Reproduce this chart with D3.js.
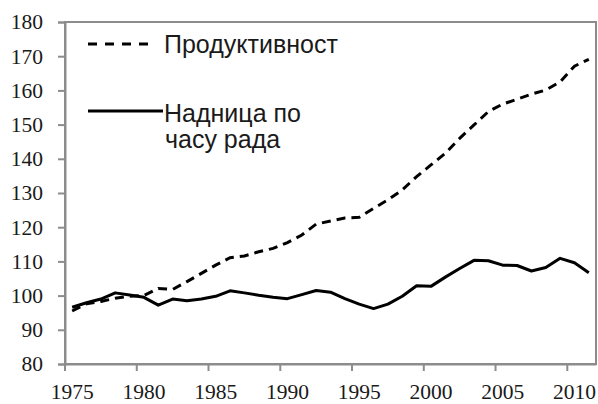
<!DOCTYPE html>
<html>
<head>
<meta charset="utf-8">
<script src="https://cdn.jsdelivr.net/npm/d3@7"></script>
<style>
  body { margin: 0; background: #fff; }
  .axis text { font-family: "Liberation Serif", "DejaVu Serif", serif; font-size: 21.5px; fill: #1a1a1a; }
  .legend text { font-family: "Liberation Sans", Arial, sans-serif; font-size: 25px; fill: #1a1a1a; }
</style>
</head>
<body>
<div id="chart-area"></div>
<script>
// data
let years = d3.range(1975, 2012);
let productivity = [95.5, 97.6, 98.3, 99.2, 99.8, 100.0, 102.1, 101.8, 104.1, 106.5,
  108.9, 111.1, 111.6, 112.8, 113.8, 115.5, 117.7, 120.9, 121.8, 122.7,
  122.9, 125.5, 128.0, 130.9, 134.8, 138.2, 141.6, 146.0, 149.9, 153.8,
  156.0, 157.4, 158.9, 160.1, 162.5, 167.1, 169.1];
let wage = [96.6, 97.9, 99.0, 100.8, 100.2, 99.5, 97.2, 99.0, 98.5, 99.0,
  99.8, 101.4, 100.8, 100.1, 99.5, 99.1, 100.3, 101.5, 101.0, 99.1,
  97.5, 96.2, 97.5, 99.8, 102.9, 102.7, 105.4, 107.9, 110.3, 110.2,
  108.9, 108.8, 107.2, 108.2, 110.9, 109.6, 106.7];
let yTicks = d3.range(80, 181, 10);
let xTickYears = [1975, 1980, 1985, 1990, 1995, 2000, 2005, 2010];

let W = 598, H = 404;
let margin = {top: 22, right: 2, bottom: 40, left: 65};
let width = W - margin.left - margin.right,
    height = H - margin.top - margin.bottom;

let svg = d3.select("#chart-area").append("svg")
    .attr("width", W)
    .attr("height", H)
  .append("g")
    .attr("transform", "translate(" + margin.left + "," + margin.top + ")");

// Scales
let x = d3.scaleBand()
    .domain(years)
    .range([0, width])
    .padding(0);

let y = d3.scaleLinear()
    .domain([80, 180])
    .range([height, 0]);

let axisColor = "#8c8c8c";

// frame
svg.append("rect")
    .attr("x", 0).attr("y", 0)
    .attr("width", width).attr("height", height)
    .attr("fill", "none")
    .attr("stroke", axisColor)
    .attr("stroke-width", 2);

// y axis
let yAxis = d3.axisLeft(y)
    .tickValues(yTicks)
    .tickSize(7)
    .tickPadding(15);

let yG = svg.append("g").attr("class", "axis").call(yAxis);
yG.select(".domain").attr("stroke", axisColor).attr("stroke-width", 2);
yG.selectAll(".tick line").attr("stroke", axisColor).attr("stroke-width", 2);

// x axis: labels at category centres, tick marks at category starts
let xAxis = d3.axisBottom(x)
    .tickValues(xTickYears)
    .tickSize(0)
    .tickPadding(0);

let xG = svg.append("g").attr("class", "axis")
    .attr("transform", "translate(0," + height + ")")
    .call(xAxis);
xG.select(".domain").attr("stroke", axisColor).attr("stroke-width", 2);
xG.selectAll(".tick text").attr("dy", null).attr("y", 35);

xG.selectAll(".tickmark")
    .data(xTickYears)
    .enter().append("line")
    .attr("class", "tickmark")
    .attr("x1", d => x(d)).attr("x2", d => x(d))
    .attr("y1", 0).attr("y2", 7)
    .attr("stroke", axisColor)
    .attr("stroke-width", 2);

// lines
let line = d3.line()
    .x((d, i) => x(years[i]) + x.bandwidth() / 2)
    .y(d => y(d));

svg.append("path")
    .datum(wage)
    .attr("d", line)
    .attr("fill", "none")
    .attr("stroke", "#000")
    .attr("stroke-width", 3)
    .attr("stroke-linejoin", "round");

svg.append("path")
    .datum(productivity)
    .attr("d", line)
    .attr("fill", "none")
    .attr("stroke", "#000")
    .attr("stroke-width", 3)
    .attr("stroke-dasharray", "9,6");

// legend
let legend = d3.select("svg").append("g").attr("class", "legend");

legend.append("line")
    .attr("x1", 88).attr("x2", 156)
    .attr("y1", 44).attr("y2", 44)
    .attr("stroke", "#000").attr("stroke-width", 3)
    .attr("stroke-dasharray", "9,8");
legend.append("text")
    .attr("x", 164).attr("y", 53)
    .text("Продуктивност");

legend.append("line")
    .attr("x1", 88).attr("x2", 163)
    .attr("y1", 111).attr("y2", 111)
    .attr("stroke", "#000").attr("stroke-width", 3);
legend.append("text")
    .attr("x", 164).attr("y", 121.5)
    .text("Надница по");
legend.append("text")
    .attr("x", 165).attr("y", 148)
    .text("часу рада");
</script>
</body>
</html>
